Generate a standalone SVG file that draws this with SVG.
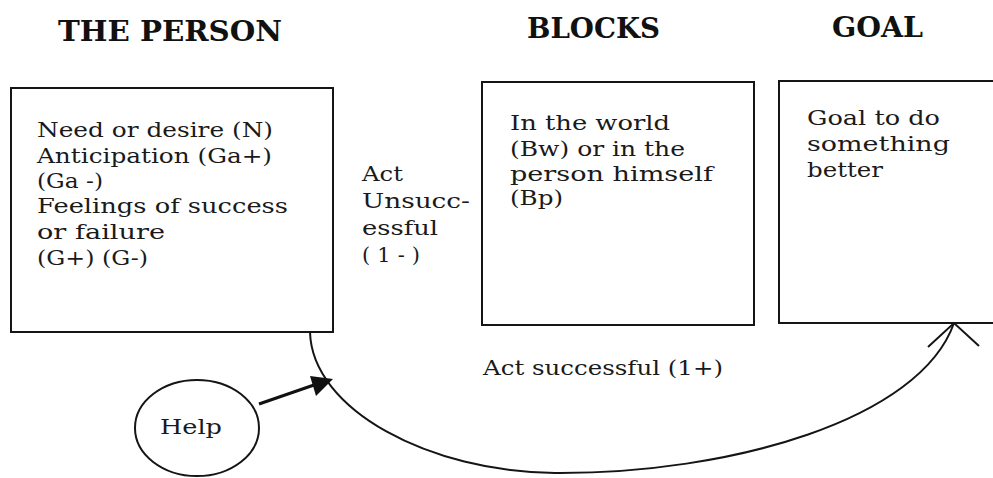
<svg xmlns="http://www.w3.org/2000/svg" width="993" height="478" viewBox="0 0 993 478">
  <style>
    .box { fill: none; stroke: #151515; stroke-width: 2; }
    .title { font-family: "DejaVu Serif", "Liberation Serif", serif; font-weight: bold; font-size: 28px; fill: #111; }
    .txt { font-family: "DejaVu Serif", "Liberation Serif", serif; font-size: 21px; fill: #1a1a1a; }
    .link { fill: none; stroke: #151515; stroke-width: 2; }
  </style>
  <rect width="993" height="478" fill="#fff"/>

  <!-- column headings -->
  <g id="headings">
    <text class="title" x="58" y="41" textLength="224" lengthAdjust="spacingAndGlyphs">THE PERSON</text>
    <text class="title" x="527" y="38" textLength="133" lengthAdjust="spacingAndGlyphs">BLOCKS</text>
    <text class="title" x="832" y="37" textLength="91" lengthAdjust="spacingAndGlyphs">GOAL</text>
  </g>

  <g id="person">
    <rect class="box" x="11" y="88" width="322" height="244"/>
    <text class="txt" x="37" y="137" textLength="236" lengthAdjust="spacingAndGlyphs">Need or desire (N)</text>
    <text class="txt" x="37" y="163" textLength="235" lengthAdjust="spacingAndGlyphs">Anticipation (Ga+)</text>
    <text class="txt" x="37" y="188" textLength="66" lengthAdjust="spacingAndGlyphs">(Ga -)</text>
    <text class="txt" x="37" y="213" textLength="251" lengthAdjust="spacingAndGlyphs">Feelings of success</text>
    <text class="txt" x="37" y="239" textLength="128" lengthAdjust="spacingAndGlyphs">or failure</text>
    <text class="txt" x="37" y="265" textLength="111" lengthAdjust="spacingAndGlyphs">(G+) (G-)</text>
  </g>

  <g id="blocks">
    <rect class="box" x="482" y="82" width="272" height="243"/>
    <text class="txt" x="510" y="130" textLength="160" lengthAdjust="spacingAndGlyphs">In the world</text>
    <text class="txt" x="510" y="156" textLength="175" lengthAdjust="spacingAndGlyphs">(Bw) or in the</text>
    <text class="txt" x="510" y="181" textLength="203" lengthAdjust="spacingAndGlyphs">person himself</text>
    <text class="txt" x="510" y="205" textLength="53" lengthAdjust="spacingAndGlyphs">(Bp)</text>
  </g>

  <g id="goal">
    <rect class="box" x="779" y="81" width="230" height="242"/>
    <text class="txt" x="807" y="125" textLength="133" lengthAdjust="spacingAndGlyphs">Goal to do</text>
    <text class="txt" x="807" y="151" textLength="143" lengthAdjust="spacingAndGlyphs">something</text>
    <text class="txt" x="807" y="177" textLength="76" lengthAdjust="spacingAndGlyphs">better</text>
  </g>

  <g id="help">
    <ellipse class="box" cx="197" cy="428" rx="62" ry="48"/>
    <text class="txt" x="160" y="434" textLength="62" lengthAdjust="spacingAndGlyphs">Help</text>
  </g>

  <g id="connectors">
    <!-- unsuccessful act label between person and blocks -->
    <text class="txt" x="362" y="181" textLength="41" lengthAdjust="spacingAndGlyphs">Act</text>
    <text class="txt" x="362" y="208" textLength="108" lengthAdjust="spacingAndGlyphs">Unsucc-</text>
    <text class="txt" x="362" y="235" textLength="76" lengthAdjust="spacingAndGlyphs">essful</text>
    <text class="txt" x="362" y="262" textLength="58" lengthAdjust="spacing">(1-)</text>

    <!-- successful act: curve from the person to the goal -->
    <path class="link" d="M310,332 C312,410 430,472 555,473 C730,474 920,420 954,323"/>
    <path class="link" d="M928,347 L954,323 L979,346"/>
    <text class="txt" x="483" y="375" textLength="240" lengthAdjust="spacingAndGlyphs">Act successful (1+)</text>

    <!-- help feeding into the curve -->
    <path d="M259,404 L314,385" stroke="#111" stroke-width="3" fill="none"/>
    <path d="M310,376 L333,379 L316,396 Z" fill="#111"/>
  </g>
</svg>
